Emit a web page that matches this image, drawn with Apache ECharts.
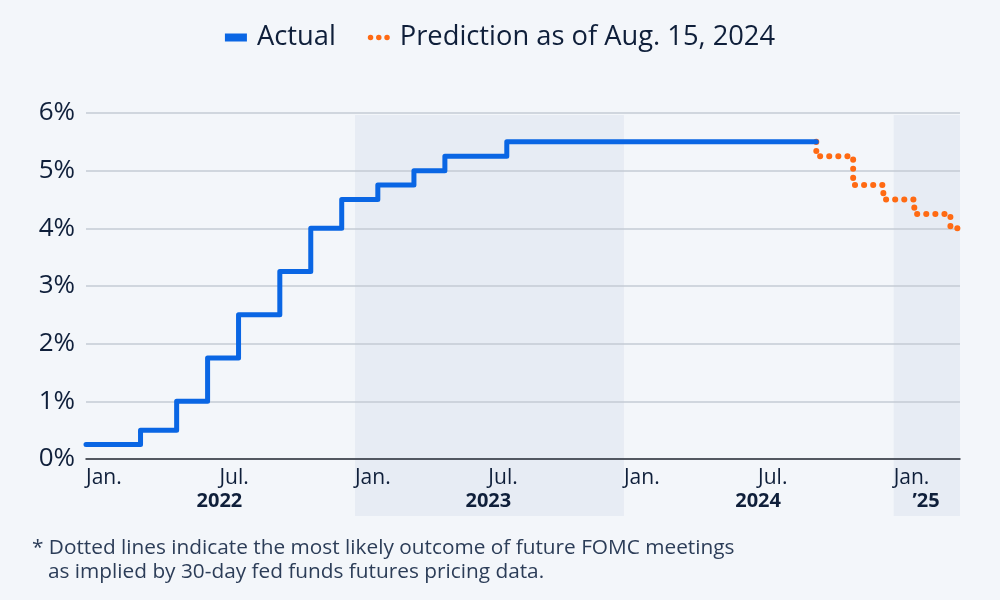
<!DOCTYPE html>
<html>
<head>
<meta charset="utf-8">
<script src="https://cdn.jsdelivr.net/npm/echarts@6/dist/echarts.min.js"></script>
<style>
  html, body { margin: 0; padding: 0; background: #f3f6fa; }
  #chart { width: 1000px; height: 600px; }
</style>
</head>
<body>
<div id="chart"></div>
<script>
// fed funds target rate (upper bound), change dates
let actualDates = ["2022-01-01", "2022-03-16", "2022-05-04", "2022-06-15", "2022-07-27", "2022-09-21",
  "2022-11-02", "2022-12-14", "2023-02-01", "2023-03-22", "2023-05-03", "2023-07-26", "2024-09-18"];
let actualRates = [0.25, 0.5, 1.0, 1.75, 2.5, 3.25, 4.0, 4.5, 4.75, 5.0, 5.25, 5.5, 5.5];

let predDates = ["2024-09-18", "2024-09-18", "2024-11-07", "2024-12-18", "2025-01-29", "2025-03-19", "2025-04-01"];
let predRates = [5.5, 5.25, 4.75, 4.5, 4.25, 4.0, 4.0];

let monthTicks = ["2022-01-01", "2022-07-01", "2023-01-01", "2023-07-01", "2024-01-01", "2024-07-01", "2025-01-01"];
let monthLabels = ["Jan.", "Jul.", "Jan.", "Jul.", "Jan.", "Jul.", "Jan."];
let yearTicks = ["2022-07-01", "2023-07-01", "2024-07-01", "2025-02-14"];
let yearLabels = ["2022", "2023", "2024", "\u201925"];

let shadedYears = [["2023-01-01", "2024-01-01"], ["2025-01-01", "2025-04-01"]];

let xMin = "2022-01-01";
let xMax = "2025-04-01";

function ts(d) { return new Date(d + "T00:00:00Z").getTime(); }

let textColor = "#0f1f3a";
let font = "Open Sans";

// three dots for the prediction legend entry
let dotsIcon = "path://M0,2.5a2.5,2.5 0 1,0 5,0a2.5,2.5 0 1,0 -5,0" +
  "M7.5,2.5a2.5,2.5 0 1,0 5,0a2.5,2.5 0 1,0 -5,0" +
  "M15,2.5a2.5,2.5 0 1,0 5,0a2.5,2.5 0 1,0 -5,0";

let chart = echarts.init(document.getElementById("chart"));

let option = {
  backgroundColor: "#f3f6fa",
  animation: false,
  textStyle: { fontFamily: font, color: textColor },
  legend: {
    top: 19,
    left: "center",
    itemWidth: 22,
    itemHeight: 8,
    itemGap: 32,
    textStyle: { fontSize: 27.3, color: textColor, fontFamily: font, padding: [0, 0, 0, 5] },
    data: [
      { name: "Actual", icon: "rect" },
      { name: "Prediction as of Aug. 15, 2024", icon: dotsIcon, itemStyle: { color: "#ff6a13" } }
    ]
  },
  grid: { left: 86, right: 40, top: 113, bottom: 141, containLabel: false },
  xAxis: [
    {
      type: "value",
      min: ts(xMin),
      max: ts(xMax),
      axisLine: { show: true, lineStyle: { color: "#2a2f38", width: 1.5 } },
      axisTick: { show: false },
      splitLine: { show: false },
      axisLabel: {
        customValues: monthTicks.map(ts),
        formatter: function(v) {
          let i = monthTicks.map(ts).indexOf(v);
          return i >= 0 ? monthLabels[i] : "";
        },
        align: "left",
        margin: 9,
        fontSize: 21,
        color: textColor,
        fontFamily: font,
        hideOverlap: false
      }
    },
    {
      type: "value",
      gridIndex: 0,
      position: "bottom",
      offset: 23,
      min: ts(xMin),
      max: ts(xMax),
      axisLine: { show: false },
      axisTick: { show: false },
      splitLine: { show: false },
      axisLabel: {
        customValues: yearTicks.map(ts),
        formatter: function(v) {
          let i = yearTicks.map(ts).indexOf(v);
          return i >= 0 ? yearLabels[i] : "";
        },
        align: "center",
        margin: 9,
        fontSize: 20,
        fontWeight: "bold",
        color: textColor,
        fontFamily: font,
        hideOverlap: false
      }
    }
  ],
  yAxis: {
    type: "value",
    min: 0,
    max: 6,
    interval: 1,
    axisLine: { show: false },
    axisTick: { show: false },
    axisLabel: { formatter: "{value}%", fontSize: 26, color: textColor, margin: 11, fontFamily: font },
    splitLine: { lineStyle: { color: "#c5cbd4", width: 1.5 } }
  },
  series: [
    {
      name: "Actual",
      type: "line",
      step: "end",
      showSymbol: false,
      symbol: "none",
      clip: false,
      z: 4,
      color: "#0a66e4",
      lineStyle: { color: "#0a66e4", width: 5, cap: "round", join: "round" },
      data: actualDates.map(function(d, i) { return [ts(d), actualRates[i]]; })
    },
    {
      name: "Prediction as of Aug. 15, 2024",
      type: "line",
      step: "end",
      showSymbol: false,
      symbol: "none",
      clip: false,
      z: 3,
      color: "#ff6a13",
      lineStyle: { color: "#ff6a13", width: 6, type: [0.1, 9], cap: "round" },
      data: predDates.map(function(d, i) { return [ts(d), predRates[i]]; })
    }
  ]
};

chart.setOption(option);

// shaded year bands, reaching down behind the year labels
let bands = shadedYears.map(function(b) {
  let x0 = chart.convertToPixel({ xAxisIndex: 0 }, ts(b[0]));
  let x1 = chart.convertToPixel({ xAxisIndex: 0 }, ts(b[1]));
  return {
    type: "rect",
    z: -10,
    silent: true,
    shape: { x: x0, y: 115, width: x1 - x0, height: 401 },
    style: { fill: "#e7ecf4" }
  };
});

let notes = [
  { type: "text", left: 32, top: 538, style: { text: "* Dotted lines indicate the most likely outcome of future FOMC meetings", fontSize: 20.8, fontFamily: font, fill: "#2c3d58" } },
  { type: "text", left: 48, top: 562, style: { text: "as implied by 30-day fed funds futures pricing data.", fontSize: 20.8, fontFamily: font, fill: "#2c3d58" } }
];

chart.setOption({ graphic: bands.concat(notes) });
</script>
</body>
</html>
